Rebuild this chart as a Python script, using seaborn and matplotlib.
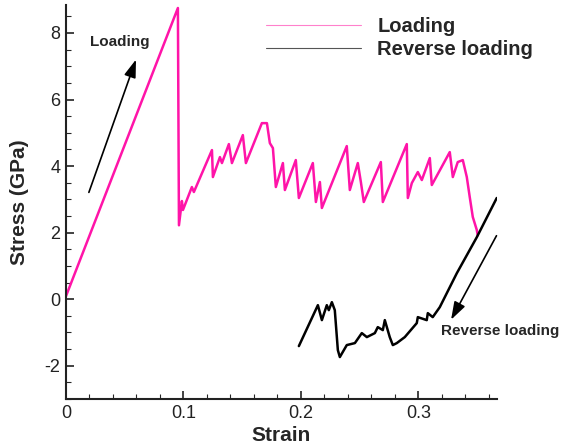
import numpy as np
import pandas as pd
import matplotlib
matplotlib.use("Agg")
import matplotlib.pyplot as plt
from matplotlib.ticker import MultipleLocator, FormatStrFormatter
import seaborn as sns

sns.set_theme(style="ticks")
plt.rcParams['font.family'] = ['Liberation Sans', 'DejaVu Sans']
plt.rcParams['axes.unicode_minus'] = False

# loading curve (strain, stress in GPa)
load_strain = [0.0, 0.0953, 0.0962, 0.0987, 0.0996, 0.1072, 0.1089, 0.1243, 0.1251,
               0.1311, 0.1328, 0.1387, 0.1413, 0.1506, 0.1532, 0.1668, 0.1711, 0.1736,
               0.1762, 0.1787, 0.1847, 0.1864, 0.1957, 0.1983, 0.2102, 0.2128, 0.2162,
               0.2179, 0.2391, 0.2417, 0.2485, 0.2511, 0.2536, 0.2681, 0.2698, 0.2902,
               0.2911, 0.2945, 0.2996, 0.3030, 0.3098, 0.3115, 0.3268, 0.3294, 0.3336,
               0.3379, 0.3413, 0.3438, 0.3464, 0.3498, 0.3506]
load_stress = [0.09, 8.75, 2.22, 2.95, 2.68, 3.37, 3.22, 4.48, 3.67,
               4.27, 4.09, 4.66, 4.09, 4.93, 4.09, 5.29, 5.29, 4.69,
               4.54, 3.37, 4.09, 3.28, 4.18, 3.04, 4.09, 2.92, 3.52,
               2.74, 4.60, 3.28, 4.09, 3.52, 2.92, 4.12, 2.92, 4.66,
               3.04, 3.49, 3.82, 3.58, 4.24, 3.43, 4.42, 3.67, 4.12,
               4.18, 3.67, 3.07, 2.47, 2.08, 1.92]

# reverse loading curve
rev_strain = [0.1983, 0.2145, 0.2179, 0.2221, 0.2238, 0.2264, 0.2289, 0.2315, 0.2332,
              0.2391, 0.2460, 0.2519, 0.2562, 0.2630, 0.2655, 0.2698, 0.2715, 0.2757,
              0.2783, 0.2817, 0.2885, 0.2987, 0.2996, 0.3072, 0.3081, 0.3123, 0.3183,
              0.3328, 0.3498, 0.3668]
rev_stress = [-1.41, -0.18, -0.63, -0.18, -0.33, -0.09, -0.33, -1.53, -1.74,
              -1.38, -1.32, -1.02, -1.14, -1.02, -0.84, -0.93, -0.63, -1.14,
              -1.38, -1.32, -1.14, -0.72, -0.54, -0.63, -0.42, -0.54, -0.24,
              0.78, 1.86, 3.04]

df = pd.concat([
    pd.DataFrame({"strain": load_strain, "stress": load_stress, "case": "Loading"}),
    pd.DataFrame({"strain": rev_strain, "stress": rev_stress, "case": "Reverse loading"}),
])

fig = plt.figure(figsize=(5.62, 4.47), dpi=100)
ax = fig.add_axes([0.1174, 0.1074, 0.7669, 0.8814])

sns.lineplot(data=df, x="strain", y="stress", hue="case", sort=False,
             palette={"Loading": "#ff14a8", "Reverse loading": "black"},
             linewidth=1.8, ax=ax)

ax.set_xlim(0, 0.367)
ax.set_ylim(-3, 8.84)
ax.xaxis.set_major_locator(MultipleLocator(0.1))
ax.xaxis.set_minor_locator(MultipleLocator(0.02))
ax.yaxis.set_major_locator(MultipleLocator(2))
ax.yaxis.set_minor_locator(MultipleLocator(0.5))
ax.xaxis.set_major_formatter(FormatStrFormatter('%g'))
ax.yaxis.set_major_formatter(FormatStrFormatter('%g'))
ax.tick_params(which='major', direction='in', length=6, width=1.2, labelsize=13,
               colors='#222222', pad=4)
ax.tick_params(which='minor', direction='in', length=3.5, width=0.8)
for s in ['top', 'right']:
    ax.spines[s].set_visible(False)
for s in ['left', 'bottom']:
    ax.spines[s].set_linewidth(1.5)
    ax.spines[s].set_color('#222222')

ax.set_xlabel("Strain", fontsize=15, fontweight='bold', labelpad=3)
ax.set_ylabel("Stress (GPa)", fontsize=15, fontweight='bold', labelpad=11)

leg = ax.legend(loc="upper left", bbox_to_anchor=(0.423, 1.015), frameon=False,
                handlelength=4.7, handletextpad=0.8, labelspacing=0.2,
                prop={'size': 14.5, 'weight': 'bold'})
for line, c in zip(leg.get_lines(), ["#ff80cc", "#555555"]):
    line.set_linewidth(0.8)
    line.set_color(c)

ax.annotate("", xy=(0.0604, 7.28), xytext=(0.0187, 3.13),
            arrowprops=dict(arrowstyle='-|>,head_length=0.9,head_width=0.3', color='black', lw=1.2))
ax.text(0.046, 7.73, "Loading", ha='center', va='center', fontsize=11, fontweight='bold')

ax.annotate("", xy=(0.3268, -0.69), xytext=(0.3677, 1.98),
            arrowprops=dict(arrowstyle='-|>,head_length=0.9,head_width=0.3', color='black', lw=1.2))
ax.text(0.3197, -0.96, "Reverse loading", ha='left', va='center', fontsize=11,
        fontweight='bold', clip_on=False)

fig.savefig("out.png", dpi=100)
